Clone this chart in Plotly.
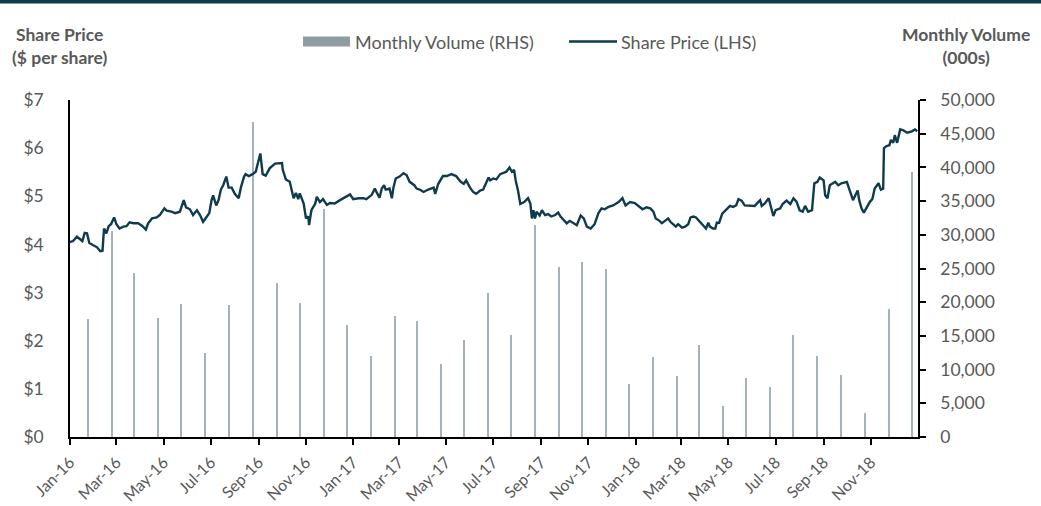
import pandas as pd
import plotly.graph_objects as go

# ---- data ----
start_date = pd.Timestamp("2016-01-01")
# share price readings: days elapsed since 1 Jan 2016, and price ($)
price_day = [
    0, 4, 9, 13, 16, 19, 22, 25, 30, 35, 39, 42, 44, 47, 50, 53, 57, 60, 64, 69,
    73, 77, 82, 88, 93, 98, 101, 106, 112, 116, 122, 125, 131, 136, 142, 147, 150, 155, 159, 164,
    168, 172, 176, 180, 183, 185, 189, 192, 195, 198, 202, 205, 209, 213, 218, 221, 225, 227, 231, 236,
    240, 243, 246, 249, 253, 258, 265, 274, 275, 279, 284, 289, 292, 295, 297, 302, 305, 308, 309, 312,
    317, 319, 323, 327, 332, 336, 342, 349, 355, 362, 366, 373,
    379, 383, 390, 394, 397, 400, 403, 406, 408, 413, 416, 418, 421, 426, 431, 435, 439, 445, 448, 452,
    457, 463, 470, 472, 476, 482, 487, 493, 499, 505, 509, 512, 517, 521, 525, 530, 534, 538, 541, 543,
    547, 551, 556, 561, 564, 568, 571, 574, 576, 579, 582, 587, 592, 595, 597, 599, 601, 603, 607, 610,
    614, 618, 622, 627, 631, 634, 638, 642, 646, 650, 655, 660, 664, 668, 673, 678, 683, 687, 691, 696,
    702, 709, 714, 718, 724, 730, 736,
    740, 745, 750, 754, 757, 762, 765, 769, 773, 776, 780, 783, 786, 791, 795, 799, 802, 806, 809, 814,
    819, 822, 825, 827, 831, 834, 836, 839, 843, 849, 853, 857, 861, 864, 868, 872, 877, 881, 885, 890,
    892, 894, 898, 903, 906, 909, 912, 918, 921, 926, 931, 935, 939, 943, 947, 950, 954, 959, 962, 966,
    969, 974, 976, 979, 982, 989, 993, 997, 1004, 1008, 1012, 1015, 1018, 1020, 1023, 1026, 1030, 1034, 1037, 1040,
    1045, 1048, 1051, 1052, 1055, 1059, 1061, 1064, 1066, 1069, 1073, 1077, 1082, 1088, 1092, 1095,
]
share_price = [
    4.05, 4.07, 4.16, 4.10, 4.07, 4.24, 4.23, 4.03, 3.99, 3.94, 3.86, 3.87, 4.33, 4.23, 4.38, 4.42, 4.56, 4.42, 4.33, 4.37,
    4.38, 4.46, 4.44, 4.44, 4.39, 4.31, 4.44, 4.54, 4.56, 4.61, 4.75, 4.70, 4.68, 4.65, 4.68, 4.92, 4.77, 4.73, 4.61, 4.71,
    4.61, 4.47, 4.56, 4.65, 4.92, 5.02, 4.81, 4.92, 5.14, 5.23, 5.41, 5.18, 5.18, 5.05, 4.96, 5.19, 5.41, 5.46, 5.42, 5.46,
    5.51, 5.68, 5.89, 5.46, 5.43, 5.58, 5.68, 5.69, 5.55, 5.35, 5.30, 4.96, 5.07, 4.94, 5.06, 4.85, 4.54, 4.58, 4.40, 4.71,
    4.85, 4.99, 4.88, 4.94, 4.82, 4.86, 4.85, 4.92, 4.97, 5.04, 4.94, 4.96,
    4.96, 4.94, 5.03, 5.16, 5.06, 4.97, 5.16, 5.23, 5.14, 5.16, 4.96, 5.18, 5.37, 5.41, 5.48, 5.44, 5.30, 5.23, 5.16, 5.14,
    5.09, 5.14, 5.18, 5.05, 5.26, 5.42, 5.42, 5.46, 5.42, 5.30, 5.26, 5.33, 5.18, 5.09, 5.05, 5.12, 5.14, 5.28, 5.39, 5.33,
    5.37, 5.35, 5.46, 5.49, 5.51, 5.60, 5.51, 5.55, 5.33, 5.12, 4.84, 4.88, 4.96, 4.85, 4.54, 4.71, 4.54, 4.68, 4.60, 4.71,
    4.61, 4.63, 4.58, 4.61, 4.66, 4.58, 4.52, 4.44, 4.49, 4.45, 4.40, 4.60, 4.54, 4.37, 4.33, 4.42, 4.65, 4.75, 4.73, 4.78,
    4.81, 4.88, 4.96, 4.81, 4.88, 4.86, 4.78,
    4.73, 4.77, 4.75, 4.68, 4.54, 4.49, 4.44, 4.49, 4.54, 4.47, 4.40, 4.37, 4.42, 4.35, 4.37, 4.42, 4.56, 4.58, 4.56, 4.47,
    4.37, 4.33, 4.45, 4.37, 4.33, 4.33, 4.45, 4.45, 4.64, 4.73, 4.80, 4.78, 4.81, 4.94, 4.91, 4.81, 4.81, 4.80, 4.80, 4.89,
    4.92, 4.80, 4.85, 4.96, 4.75, 4.59, 4.71, 4.75, 4.84, 4.91, 4.84, 4.96, 4.89, 4.71, 4.68, 4.80, 4.68, 4.71, 5.27, 5.30,
    5.39, 5.33, 5.02, 4.96, 5.23, 5.30, 5.23, 5.27, 5.30, 5.12, 4.92, 5.02, 5.12, 4.92, 4.75, 4.66, 4.78, 4.89, 4.94, 5.16,
    5.27, 5.14, 5.16, 6.00, 6.04, 6.06, 6.17, 6.11, 6.27, 6.11, 6.39, 6.37, 6.32, 6.35, 6.39, 6.35,
]

volume_months = pd.date_range("2016-01-01", periods=36, freq="MS")
monthly_volume = [
    17500, 30500, 24400, 17700, 19700, 12400, 19600, 46700, 22900, 19900, 33800, 16600,
    12000, 17900, 17200, 10800, 14400, 21300, 15100, 31400, 25200, 25900, 25000, 7800,
    11800, 9000, 13700, 4600, 8800, 7400, 15100, 12000, 9200, 3500, 19000, 39300,
]

tick_dates = pd.date_range("2016-01-01", "2018-11-01", freq="2MS")
tick_labels = [d.strftime("%b-%y") for d in tick_dates]

# ---- style ----
LINE = "#0f3b4d"
BAR = "#8d9da3"
BAR_FILL = "#a3b3b9"
GREY = "#595959"
FONT = "Lato"
FS = 17.5

price_dates = start_date + pd.to_timedelta(price_day, unit="D")
bar_x = volume_months + pd.Timedelta(days=23)

fig = go.Figure()
fig.add_trace(go.Bar(
    x=bar_x, y=monthly_volume, name="Monthly Volume (RHS)",
    marker=dict(color=BAR_FILL, line=dict(width=0)),
    width=1.5 * 86400000, yaxis="y", showlegend=False,
))
fig.add_trace(go.Scatter(
    x=price_dates, y=share_price, name="Share Price (LHS)", mode="lines",
    line=dict(color=LINE, width=2.4), yaxis="y2", showlegend=False,
))

L, R, T, B = 70, 918, 100, 437
W, H = 1041, 506
def px(x):
    return (x - L) / (R - L)
def py(y):
    return (B - y) / (B - T)

fig.update_layout(
    width=W, height=H,
    margin=dict(l=L, r=W - R, t=T, b=H - B, autoexpand=False),
    paper_bgcolor="white", plot_bgcolor="white",
    font=dict(family=FONT, color=GREY, size=FS),
    bargap=0,
    xaxis=dict(
        type="date", range=["2016-01-01", "2019-01-01"],
        tickvals=tick_dates, ticktext=tick_labels, tickangle=-45,
        showgrid=False, zeroline=False,
        showline=True, linecolor="black", linewidth=1.5,
        ticks="outside", ticklen=6, tickcolor="black", tickwidth=1.5,
        tickfont=dict(size=16, color=GREY, family=FONT),
        ticklabelstandoff=2,
    ),
    yaxis=dict(
        range=[0, 50000], dtick=5000, tickformat=",d", side="right",
        showgrid=False, zeroline=False,
        showline=True, linecolor="black", linewidth=1.5,
        ticks="outside", ticklen=6, tickcolor="black", tickwidth=1.5,
        tickfont=dict(size=FS, color=GREY, family=FONT),
        ticklabelstandoff=11,
    ),
    yaxis2=dict(
        range=[0, 7], dtick=1, tickprefix="$", side="left", overlaying="y",
        showgrid=False, zeroline=False,
        showline=True, linecolor="black", linewidth=1.5,
        ticks="", tickfont=dict(size=FS, color=GREY, family=FONT),
        ticklabelstandoff=21,
    ),
    showlegend=False,
)

shapes = [
    dict(type="rect", xref="paper", yref="paper", x0=px(0), x1=px(W),
         y0=py(3.5), y1=py(0), fillcolor=LINE, line=dict(width=0)),
    dict(type="rect", xref="paper", yref="paper", x0=px(303), x1=px(350),
         y0=py(46.5), y1=py(36.5), fillcolor=BAR, line=dict(width=0)),
    dict(type="line", xref="paper", yref="paper", x0=px(569), x1=px(617),
         y0=py(41.5), y1=py(41.5), line=dict(color=LINE, width=2.5)),
]
annotations = [
    dict(text="Monthly Volume (RHS)", xref="paper", yref="paper", x=px(353), y=py(42),
         xanchor="left", yanchor="middle", showarrow=False, font=dict(size=18, color=GREY)),
    dict(text="Share Price (LHS)", xref="paper", yref="paper", x=px(619), y=py(42),
         xanchor="left", yanchor="middle", showarrow=False, font=dict(size=18, color=GREY)),
    dict(text="<b>Share Price</b><br><b>($ per share)</b>", xref="paper", yref="paper",
         x=px(60), y=py(46), xanchor="center", yanchor="middle", showarrow=False,
         align="center", font=dict(size=FS, color=GREY)),
    dict(text="<b>Monthly Volume</b><br><b>(000s)</b>", xref="paper", yref="paper",
         x=px(966), y=py(46), xanchor="center", yanchor="middle", showarrow=False,
         align="center", font=dict(size=FS, color=GREY)),
]
fig.update_layout(shapes=shapes, annotations=annotations)

fig.write_html(
    "out.html",
    config={"displayModeBar": False},
    post_script="document.body.style.margin='0';document.body.style.padding='0';",
)
